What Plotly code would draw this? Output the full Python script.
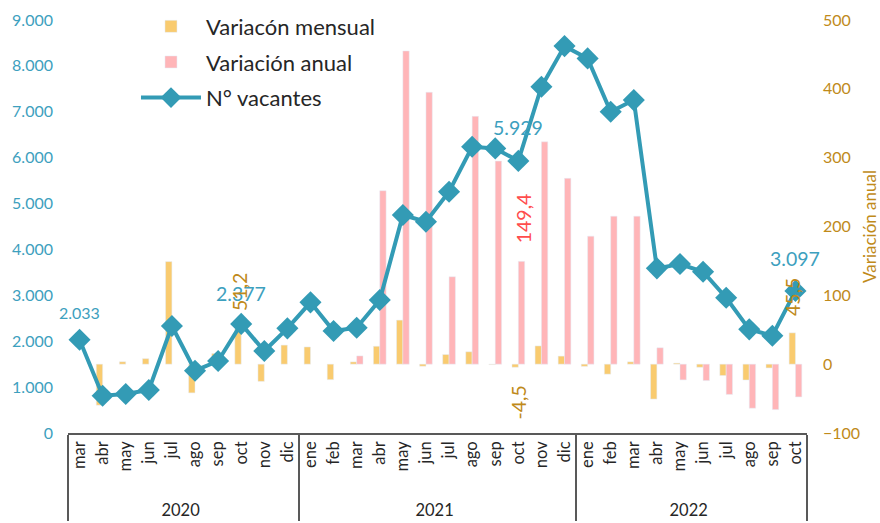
import plotly.graph_objects as go

years = ['2020'] * 10 + ['2021'] * 12 + ['2022'] * 10
months = ['mar', 'abr', 'may', 'jun', 'jul', 'ago', 'sep', 'oct', 'nov', 'dic',
          'ene', 'feb', 'mar', 'abr', 'may', 'jun', 'jul', 'ago', 'sep', 'oct', 'nov', 'dic',
          'ene', 'feb', 'mar', 'abr', 'may', 'jun', 'jul', 'ago', 'sep', 'oct']

vacantes = [2033, 813, 850, 937, 2331, 1358, 1569, 2377, 1786, 2281,
            2847, 2222, 2294, 2897, 4749, 4604, 5257, 6238, 6202, 5929, 7545, 8431,
            8163, 7000, 7255, 3588, 3682, 3514, 2948, 2259, 2120, 3097]

var_mensual = [None, -59.6, 3.5, 8.0, 149.0, -41.7, 15.5, 51.2, -25.0, 27.7,
               25.0, -22.5, 3.3, 26.0, 64.0, -3.0, 14.0, 18.0, -0.6, -4.5, 26.5, 11.7,
               -3.2, -14.5, 3.4, -50.7, 1.5, -4.5, -16.5, -23.0, -5.5, 45.5]

var_anual = [None] * 10 + [None, None, 12.0, 252.0, 455.0, 395.0, 127.0, 360.0, 295.0, 149.4, 323.0, 270.0,
                           186.0, 215.0, 215.0, 23.8, -22.8, -23.8, -44.0, -64.0, -66.0, -47.6]

TEAL = '#339BB5'
TEAL_TXT = '#3DA0BE'
GOLD = '#C08A1A'
YELLOW = '#F9CB6F'
PINK = '#FFB5B8'
RED = '#FF4D4D'
DARK = '#262626'
FONT = 'Lato, Carlito, sans-serif'

# multicategory axes order inner labels globally, so months of each year are made
# unique with invisible zero-width characters to keep calendar order; leading
# no-break spaces leave room between the month and year rows
year_order = {'2020': '', '2021': '\u200b', '2022': '\u200b\u200b'}
inner = ['\u00a0' * 3 + m + year_order[y] for y, m in zip(years, months)]
x = [years, inner]
n = len(months)

fig = go.Figure()
fig.add_trace(go.Bar(x=x, y=var_mensual, name='Variacón mensual', marker_color=YELLOW,
                     yaxis='y', legendgroup='a'))
fig.add_trace(go.Bar(x=x, y=var_anual, name='Variación anual', marker_color=PINK,
                     yaxis='y', legendgroup='b'))
fig.add_trace(go.Scatter(x=x, y=vacantes, name='N° vacantes', mode='lines+markers',
                         line=dict(color=TEAL, width=4),
                         marker=dict(symbol='diamond', size=17, color=TEAL),
                         yaxis='y2', legendgroup='c'))


def px(i, off=0.0):
    return (i + 0.5 + off) / n


ann = []
# line labels
for i, dy, size in [(0, 27, 16), (7, 30, 19.5), (19, 33, 19.5), (31, 32, 19.5)]:
    ann.append(dict(x=px(i), xref='paper', y=vacantes[i], yref='y2', yshift=dy,
                    xanchor='center', yanchor='middle',
                    text=f"{vacantes[i]:,}".replace(',', '.'), showarrow=False,
                    font=dict(color=TEAL_TXT, size=size, family=FONT)))
# bar labels (rotated)
for i, series, dy, off, color in [(7, var_mensual, 37, -0.05, GOLD),
                                  (19, var_mensual, -35, 0.0, GOLD),
                                  (31, var_mensual, 36, -0.1, GOLD),
                                  (19, var_anual, 43, 0.2, RED)]:
    ann.append(dict(x=px(i, off), xref='paper', y=series[i], yref='y', yshift=dy,
                    xanchor='center', yanchor='middle',
                    text=f"{series[i]:.1f}".replace('.', ','), showarrow=False, textangle=-90,
                    font=dict(color=color, size=19.5, family=FONT)))

fig.update_layout(
    width=880, height=523,
    margin=dict(l=68, r=73, t=20, b=90, autoexpand=False),
    paper_bgcolor='white', plot_bgcolor='white',
    separators=',.',
    barmode='group', bargap=0.45, bargroupgap=0,
    font=dict(family=FONT, color=DARK),
    showlegend=True,
    legend=dict(x=0.092, y=1.035, xanchor='left', yanchor='top', tracegroupgap=4,
                font=dict(size=22, color=DARK), bgcolor='rgba(0,0,0,0)', itemwidth=60),
    xaxis=dict(type='multicategory', range=[-0.5, n - 0.5], tickangle=-90, showline=True,
               linecolor='#595959', linewidth=1.5,
               showdividers=True, dividercolor='#595959', dividerwidth=1.5, ticks='',
               tickfont=dict(size=16.5, color=DARK), showgrid=False, zeroline=False),
    yaxis=dict(side='right', range=[-100, 500], dtick=100, showgrid=False, zeroline=False,
               showline=False, ticks='', ticklabelstandoff=15,
               tickfont=dict(color=GOLD, size=16),
               title=dict(text='Variación anual', font=dict(color=GOLD, size=17), standoff=4)),
    yaxis2=dict(overlaying='y', side='left', range=[0, 9000], dtick=1000, tickformat=',d',
                showgrid=False, zeroline=False, showline=False, ticks='', ticklabelstandoff=14,
                tickfont=dict(color=TEAL_TXT, size=16)),
    annotations=ann,
)

fig.write_html('out.html', config={'displayModeBar': False},
               post_script="document.body.style.margin='0';")
